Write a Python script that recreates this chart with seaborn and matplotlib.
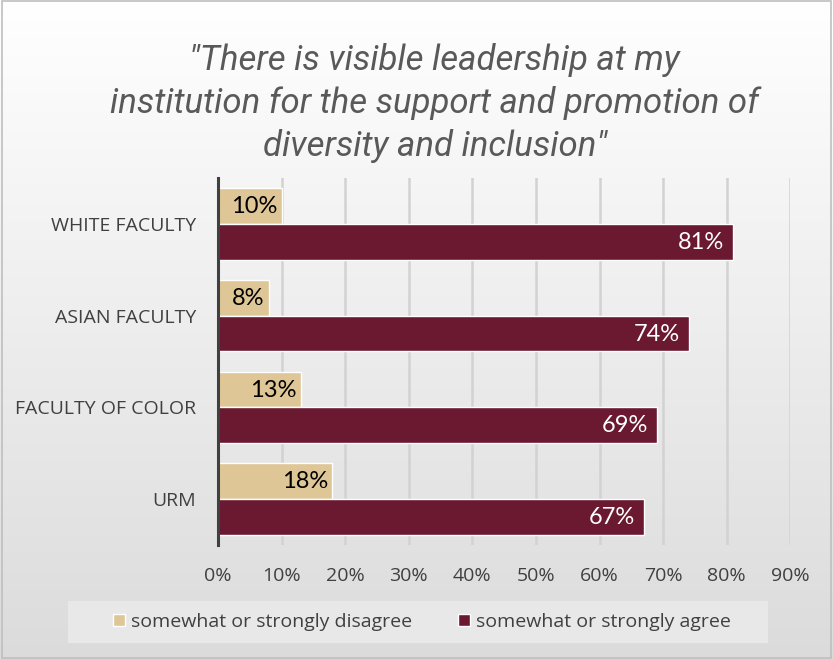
import numpy as np
import pandas as pd
import matplotlib
matplotlib.use("Agg")
import matplotlib.pyplot as plt
import seaborn as sns

categories = ["WHITE FACULTY", "ASIAN FACULTY", "FACULTY OF COLOR", "URM"]
disagree = [10, 8, 13, 18]
agree = [81, 74, 69, 67]
series_names = ["somewhat or strongly disagree", "somewhat or strongly agree"]
xticks = [0, 10, 20, 30, 40, 50, 60, 70, 80, 90]
title = '"There is visible leadership at my\ninstitution for the support and promotion of\ndiversity and inclusion"'

colors = ["#DEC697", "#6B1831"]

df = pd.DataFrame({
    "category": categories * 2,
    "series": [series_names[0]] * 4 + [series_names[1]] * 4,
    "value": disagree + agree,
})

sns.set_theme(style="white")
plt.rcParams["font.family"] = ["Open Sans", "DejaVu Sans"]

fig = plt.figure(figsize=(8.33, 6.59), dpi=100)

# background gradient
bg = fig.add_axes([0, 0, 1, 1], zorder=-10)
grad = np.linspace(1.0, 0.86, 256).reshape(-1, 1)
bg.imshow(np.dstack([grad, grad, grad]), aspect="auto", extent=[0, 1, 0, 1])
bg.set_xlim(0, 1)
bg.set_ylim(0, 1)
bg.set_axis_off()
bg.add_patch(plt.Rectangle((0.002, 0.002), 0.996, 0.996, fill=False,
                           edgecolor="#bfbfbf", lw=1.2, transform=bg.transAxes))
# legend box
bg.add_patch(plt.Rectangle((68 / 833, 1 - 643 / 659), 700 / 833, 42 / 659,
                           facecolor="#e8e8e8", edgecolor="none",
                           transform=bg.transAxes))

ax = fig.add_axes([0.2617, 0.173, 0.687, 0.557])
ax.patch.set_alpha(0)
sns.barplot(data=df, y="category", x="value", hue="series", order=categories,
            hue_order=series_names, palette=colors, orient="h", width=0.78,
            saturation=1, ax=ax, legend=True)

ax.set_xlim(0, 90)
ax.set_ylim(3.5, -0.5)
ax.set_xticks(xticks)
ax.set_xticklabels([f"{t}%" for t in xticks], fontsize=14, color="#404040")
ax.set_yticklabels(categories, fontsize=14, color="#404040")
ax.set_xlabel("")
ax.set_ylabel("")
ax.tick_params(axis="x", pad=16, length=0)
ax.tick_params(axis="y", pad=16, length=0)
ax.grid(axis="x", color="#d2d2d2", lw=1.8)
ax.set_axisbelow(True)
for s in ["top", "right", "bottom"]:
    ax.spines[s].set_visible(False)
ax.spines["left"].set_color("#404040")
ax.spines["left"].set_linewidth(2.2)

for i, cont in enumerate(ax.containers):
    for patch, v in zip(cont.patches, cont.datavalues):
        yc = patch.get_y() + patch.get_height() / 2
        ax.annotate(f"{v:.0f}%", xy=(v, yc), xytext=(-3 if i == 0 else -6.5, -0.5),
                    textcoords="offset points", ha="right", va="center",
                    fontsize=17, color="black" if i == 0 else "white",
                    family=["Lato", "DejaVu Sans"])

leg = ax.legend(loc="center", bbox_to_anchor=(422 / 833, 1 - 622 / 659),
                bbox_transform=fig.transFigure, ncol=2, frameon=False,
                fontsize=14, handlelength=0.6, handleheight=0.6, handletextpad=0.3,
                columnspacing=2.4)
for t in leg.get_texts():
    t.set_color("#404040")

fig.text(0.522, 1 - 103 / 659, title, ha="center", va="center", fontsize=25,
         style="italic", color="#595959", family=["Roboto", "DejaVu Sans"],
         linespacing=1.33)

fig.savefig("out.png", dpi=100)
